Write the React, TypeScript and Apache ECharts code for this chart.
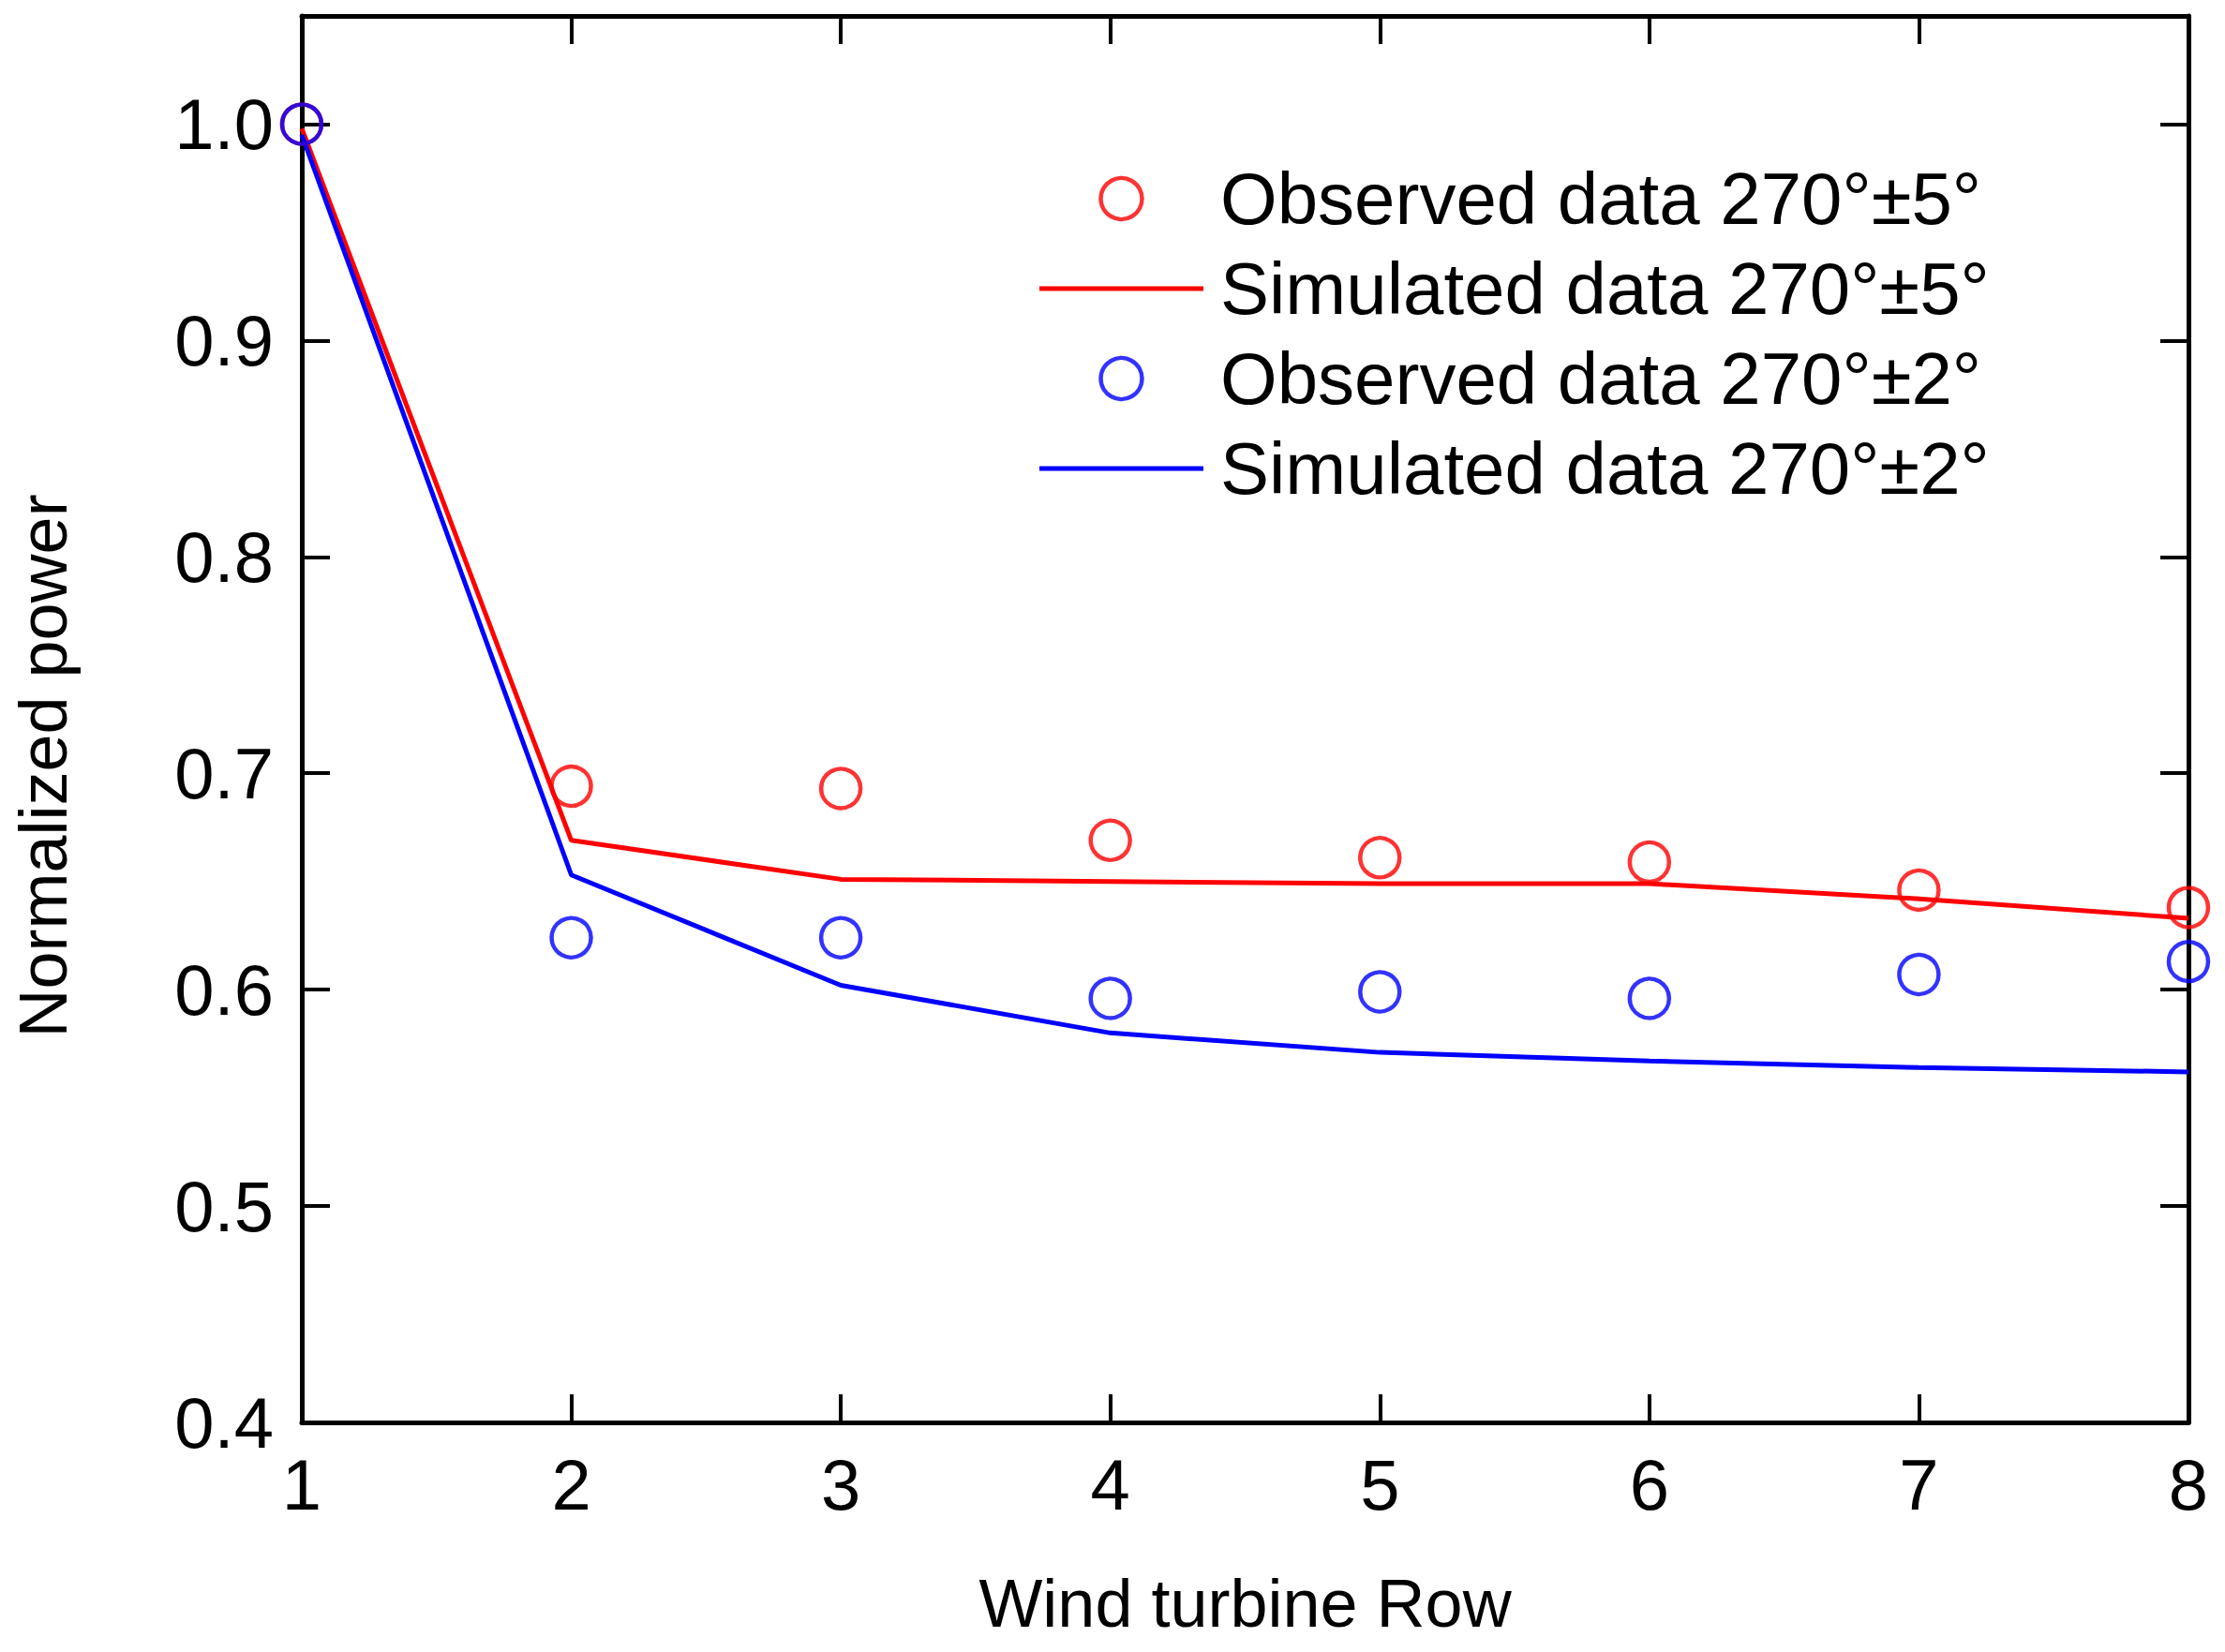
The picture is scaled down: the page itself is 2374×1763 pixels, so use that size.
import React, { useEffect, useRef } from "react";
import * as echarts from "echarts";

const rows = [1, 2, 3, 4, 5, 6, 7, 8];
const observed5 = [1.0, 0.694, 0.693, 0.669, 0.661, 0.659, 0.646, 0.638];
const simulated5 = [0.998, 0.669, 0.651, 0.65, 0.649, 0.649, 0.642, 0.633];
const observed2 = [1.0, 0.624, 0.624, 0.596, 0.599, 0.596, 0.607, 0.613];
const simulated2 = [0.995, 0.653, 0.602, 0.58, 0.571, 0.567, 0.564, 0.562];
const seriesNames = [
  "Observed data 270°±5°",
  "Simulated data 270°±5°",
  "Observed data 270°±2°",
  "Simulated data 270°±2°",
];
const xTitle = "Wind turbine Row";
const yTitle = "Normalized power";

const FONT = "'Liberation Sans', Arial, Helvetica, sans-serif";
const RED = "#ff0000";
const BLUE = "#0000ff";
const LINE_ICON = "path://M0,0H175V5H0Z";

const pairs = (vals: number[]) => rows.map((r, i) => [r, vals[i]]);

export default function App() {
  const ref = useRef<HTMLDivElement>(null);
  useEffect(() => {
    if (!ref.current) return;
    const chart = echarts.init(ref.current, undefined, { renderer: "svg" });
    const axisLine = { show: true, lineStyle: { color: "#000", width: 5 } };
    const axisTick = { show: true, inside: true, length: 30, lineStyle: { color: "#000", width: 4 } };
    const labelStyle = { color: "#000", fontFamily: FONT, fontSize: 76, lineHeight: 76 };
    chart.setOption({
      animation: false,
      backgroundColor: "#fff",
      grid: { left: 322, right: 39, top: 17, bottom: 245, containLabel: false },
      legend: {
        orient: "vertical",
        left: 1104,
        top: 167,
        itemWidth: 175,
        itemHeight: 44,
        itemGap: 16,
        symbolKeepAspect: true,
        textStyle: { color: "#000", fontFamily: FONT, fontSize: 78, lineHeight: 80, padding: [0, 0, 0, 13] },
        data: [
          { name: seriesNames[0], itemStyle: { color: "rgba(255,255,255,0)", borderColor: RED, borderWidth: 4.5 } },
          { name: seriesNames[1], icon: LINE_ICON, itemStyle: { color: RED } },
          { name: seriesNames[2], itemStyle: { color: "rgba(255,255,255,0)", borderColor: BLUE, borderWidth: 4.5 } },
          { name: seriesNames[3], icon: LINE_ICON, itemStyle: { color: BLUE } },
        ],
      },
      xAxis: [
        {
          type: "value",
          min: 1,
          max: 8,
          interval: 1,
          position: "bottom",
          name: xTitle,
          nameLocation: "middle",
          nameGap: 157,
          nameTextStyle: { color: "#000", fontFamily: FONT, fontSize: 72, lineHeight: 72 },
          axisLine,
          axisTick,
          axisLabel: { ...labelStyle, margin: 28 },
          splitLine: { show: false },
        },
        {
          type: "value",
          min: 1,
          max: 8,
          interval: 1,
          position: "top",
          axisLine,
          axisTick,
          axisLabel: { show: false },
          splitLine: { show: false },
        },
      ],
      yAxis: [
        {
          type: "value",
          min: 0.4,
          max: 1.05,
          interval: 0.1,
          position: "left",
          name: yTitle,
          nameLocation: "middle",
          nameGap: 240,
          nameTextStyle: { color: "#000", fontFamily: FONT, fontSize: 72, lineHeight: 72, padding: [0, 100, 0, 0] },
          axisLine,
          axisTick,
          axisLabel: {
            ...labelStyle,
            margin: 30,
            showMaxLabel: false,
            formatter: (v: number) => v.toFixed(1),
          },
          splitLine: { show: false },
        },
        {
          type: "value",
          min: 0.4,
          max: 1.05,
          interval: 0.1,
          position: "right",
          axisLine,
          axisTick,
          axisLabel: { show: false },
          splitLine: { show: false },
        },
      ],
      series: [
        {
          name: seriesNames[0],
          type: "scatter",
          symbol: "circle",
          symbolSize: 42,
          itemStyle: { color: "rgba(255,255,255,0)", borderColor: RED, borderWidth: 4.5 },
          data: pairs(observed5),
          z: 3,
        },
        {
          name: seriesNames[1],
          type: "line",
          symbol: "none",
          lineStyle: { color: RED, width: 5 },
          itemStyle: { color: RED },
          data: pairs(simulated5),
          z: 2,
        },
        {
          name: seriesNames[2],
          type: "scatter",
          symbol: "circle",
          symbolSize: 42,
          itemStyle: { color: "rgba(255,255,255,0)", borderColor: BLUE, borderWidth: 4.5 },
          data: pairs(observed2),
          z: 4,
        },
        {
          name: seriesNames[3],
          type: "line",
          symbol: "none",
          lineStyle: { color: BLUE, width: 5 },
          itemStyle: { color: BLUE },
          data: pairs(simulated2),
          z: 2,
        },
      ],
    });
    return () => chart.dispose();
  }, []);
  return (
    <div
      ref={ref}
      style={{ position: "fixed", left: 0, top: 0, width: 2374, height: 1763, background: "#fff" }}
    />
  );
}
